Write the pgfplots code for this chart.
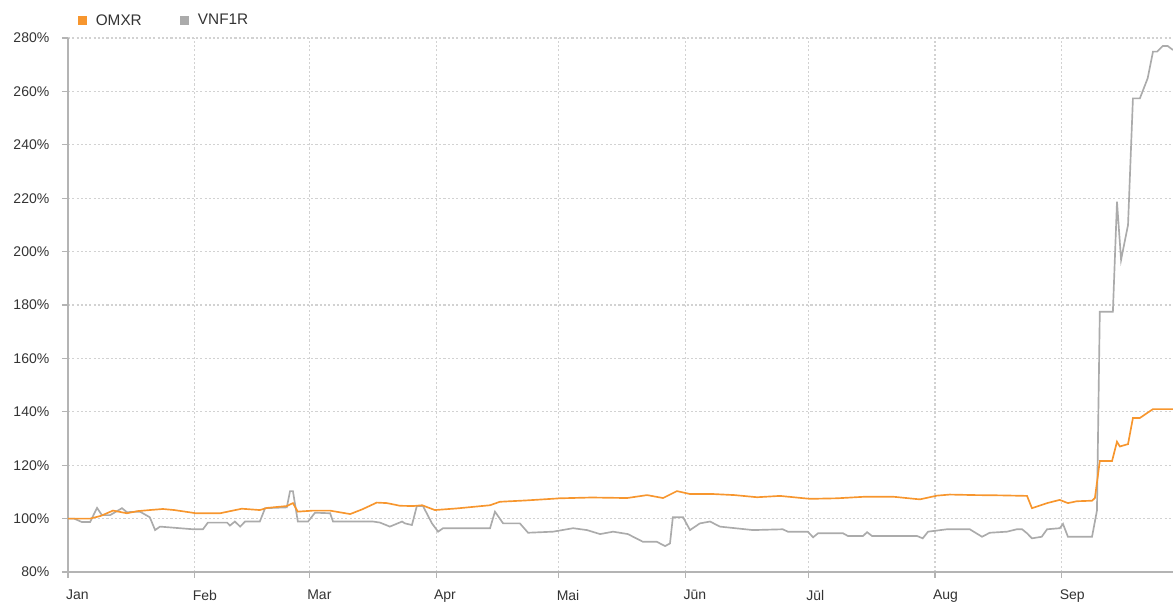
\documentclass[border=0pt]{standalone}
\usepackage{fontspec}
\setmainfont{Liberation Sans}
\usepackage{pgfplots}
\pgfplotsset{compat=1.18}
\definecolor{omx}{HTML}{F7962E}
\definecolor{vnf}{HTML}{ABABAB}
\definecolor{gridc}{HTML}{D2D2D2}
\definecolor{axc}{HTML}{B4B4B4}
\definecolor{txt}{HTML}{333333}
\begin{document}
\begin{tikzpicture}
\useasboundingbox (-51pt,-24.75pt) rectangle (828.75pt,429pt);
\begin{axis}[
  scale only axis,
  width=828.75pt, height=400.5pt,
  xmin=0, xmax=270.2, ymin=80, ymax=280,
  axis x line=bottom, axis y line=left,
  axis line style={-, color=axc, line width=1.2pt},
  xtick={0,31,59,90,120,151,181,212,243},
  xticklabels={Jan,Feb,Mar,Apr,Mai,Jūn,Jūl,Aug,Sep},
  ytick={80,100,...,280},
  yticklabel={\pgfmathprintnumber{\tick}\%},
  /pgf/number format/assume math mode=true,
  tick align=outside,
  major tick length=4.5pt,
  tick style={color=axc, line width=0.8pt},
  ticklabel style={font=\fontsize{10.5pt}{12pt}\selectfont, color=txt},
  xticklabel style={anchor=north west, xshift=-5pt, yshift=-5.5pt},
  yticklabel style={xshift=-6pt},
  grid=major,
  grid style={color=gridc, line width=0.8pt, dash pattern=on 1.6pt off 1.6pt},
  legend columns=2,
  reverse legend,
  legend style={at={(axis description cs:0,1)}, anchor=west, xshift=4.5pt, yshift=13pt,
    draw=none, fill=none, font=\fontsize{11.5pt}{13pt}\selectfont, text=txt,
    /tikz/every odd column/.append style={column sep=4.5pt},
    /tikz/every even column/.append style={column sep=27pt}},
  legend image code/.code={\fill (0pt,-2.7pt) rectangle (5.4pt,2.7pt);},
]
\addplot[color=vnf, line width=1.25pt] coordinates {
(0,100) (1.5,100) (3.4,98.7) (5.4,98.7) (7.1,104) (8.3,101.3) (10.3,101.3) (13.2,103.9)
(14.4,102.4) (17.6,102.6) (20,100.5) (21.3,95.7) (22.5,97) (30.6,96) (33,96) (34.2,98.5)
(38.9,98.5) (39.6,97.4) (40.8,98.9) (42.1,97) (43.3,98.9) (46.9,98.9) (48.2,103.9)
(53.5,104.2) (54.3,110.3) (55,110.3) (56.2,98.9) (58.7,98.9) (60.4,102.2) (64.1,102)
(64.8,98.9) (74.6,98.9) (76.3,98.5) (78.7,97) (81.7,98.9) (82.4,98.2) (84.1,97.6)
(85.3,104.7) (86.8,104.7) (89,98.2) (90.5,95.1) (91.7,96.4) (103.2,96.4) (104.4,102.6)
(106.4,98.2) (110.5,98.2) (112.5,94.7) (118.6,95.1) (123.5,96.4) (126.9,95.7) (130.1,94.2)
(133.3,95.1) (136.9,94.2) (140.6,91.3) (144,91.3) (146,89.7) (147.2,90.7) (147.9,100.5)
(150.4,100.5) (152.1,95.7) (154.5,98.2) (157,98.9) (159.4,97) (167.5,95.7) (174.8,96)
(176,95.1) (180.9,95.1) (182.2,93) (183.4,94.5) (189.5,94.5) (190.7,93.5) (194.4,93.5)
(195.4,94.9) (196.6,93.5) (207.6,93.5) (209,92.6) (210.3,95.1) (214.9,96) (220.5,96)
(223.5,93.2) (225.4,94.7) (229.6,95.1) (232,96) (233.3,96) (234.5,94.5) (235.7,92.6)
(238.1,93.2) (239.4,96) (242.5,96.4) (243.3,98) (244.5,93.2) (250.4,93.2) (251.6,103)
(252.3,177.5) (255.5,177.5) (256.5,218.7) (257.5,196.9) (259.2,210) (260.4,257.4)
(262.1,257.4) (264,264.9) (265.3,274.9) (266.3,274.9) (267.7,277) (268.9,277) (270.2,275.5)
};
\addlegendentry{VNF1R}
\addplot[color=omx, line width=1.25pt] coordinates {
(0,100) (5.4,100) (8,101) (11,103) (14.4,102) (17,102.8) (20,103.2) (23.2,103.6) (26,103.2)
(31.3,102) (37.2,102) (40.3,103) (42.5,103.7) (46.9,103.2) (48.7,104) (53.5,104.7)
(55,105.8) (56.2,102.6) (60,103) (64,103) (69,101.7) (72,103.5) (75.5,106) (78,105.8)
(81.2,104.8) (84.4,104.7) (86.6,105) (89.7,103.2) (95,103.8) (103.2,105) (105.6,106.3)
(112,106.8) (120.3,107.6) (128,107.9) (136.7,107.7) (141.6,108.8) (145.5,107.7)
(148.9,110.3) (152.1,109.2) (157.7,109.2) (163,108.8) (168.5,108) (174.1,108.5)
(181.4,107.4) (188,107.6) (195,108.2) (201.7,108.2) (208.3,107.2) (212.5,108.6)
(215.6,109) (222,108.8) (228,108.7) (234.5,108.5) (235.7,103.9) (239.4,105.8)
(242.5,107) (244.5,105.8) (246.7,106.5) (250.4,106.7) (251.1,107.7) (252.3,121.6)
(255.3,121.6) (256.5,128.8) (257.2,127) (259.2,127.9) (260.4,137.7) (262.1,137.7)
(265.3,141) (270.2,141)
};
\addlegendentry{OMXR}
\end{axis}
\end{tikzpicture}
\end{document}
